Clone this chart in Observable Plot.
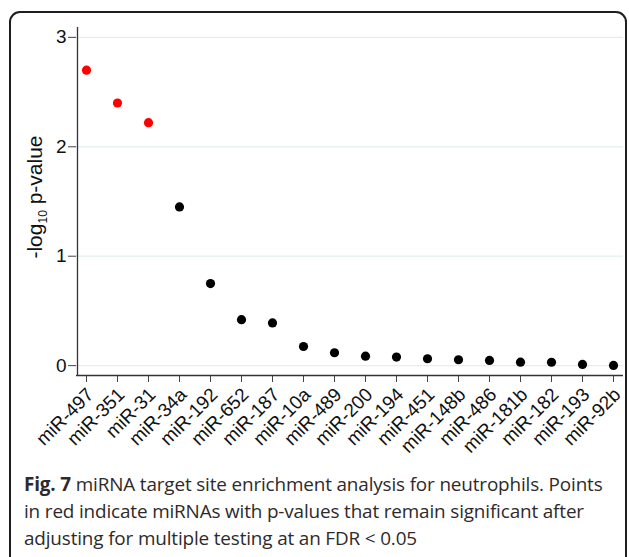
<!DOCTYPE html>
<html>
<head>
<meta charset="utf-8">
<script src="https://cdn.jsdelivr.net/npm/d3@7"></script>
<script src="https://cdn.jsdelivr.net/npm/@observablehq/plot@0.6"></script>
<style>
  html, body { margin: 0; padding: 0; background: #fff; width: 629px; height: 557px; overflow: hidden; }
  #box { position: absolute; left: 9px; top: 11px; width: 614px; height: 560px; border: 2px solid #1e1e1e; border-radius: 11px; pointer-events: none; }
  #chart { position: absolute; left: 0; top: 0; }
  #chart svg text { font-size: 19px; fill: #111; }
  #caption { position: absolute; left: 24px; top: 471px; font-family: "Open Sans", sans-serif; font-weight: 400; font-size: 18.9px; line-height: 27px; color: #2e2a2b; white-space: nowrap; letter-spacing: -0.15px; }
  #caption b { font-weight: 700; }
</style>
</head>
<body>
<div id="chart"></div>
<div id="box"></div>
<div id="caption"><b>Fig. 7</b> miRNA target site enrichment analysis for neutrophils. Points<br>in red indicate miRNAs with p-values that remain significant after<br>adjusting for multiple testing at an FDR &lt; 0.05</div>
<script>
const categories = ["miR-497","miR-351","miR-31","miR-34a","miR-192","miR-652","miR-187","miR-10a","miR-489","miR-200","miR-194","miR-451","miR-148b","miR-486","miR-181b","miR-182","miR-193","miR-92b"];
const negLogP = [2.70, 2.40, 2.22, 1.45, 0.75, 0.42, 0.39, 0.175, 0.118, 0.087, 0.078, 0.063, 0.054, 0.048, 0.032, 0.031, 0.011, 0.002];
const significant = [true, true, true, false, false, false, false, false, false, false, false, false, false, false, false, false, false, false];
const yTicks = [0, 1, 2, 3];

const data = categories.map((c, i) => ({name: c, value: negLogP[i], sig: significant[i]}));

const chart = Plot.plot({
  width: 629,
  height: 470,
  marginLeft: 76,
  marginRight: 6,
  marginTop: 27,
  marginBottom: 95,
  style: {fontFamily: "'Liberation Sans', Arial, Helvetica, sans-serif", fontSize: "19px", background: "transparent", color: "#111"},
  x: {type: "point", domain: categories, padding: 0.29, label: null},
  y: {domain: [-0.09, 3.09], label: null},
  marks: [
    Plot.gridY(yTicks, {stroke: "#e3eef1", strokeOpacity: 1, strokeWidth: 1.2}),
    Plot.axisY(yTicks, {tickSize: 8, tickPadding: 2, tickFormat: d => d, label: null, stroke: "#444"}),
    Plot.axisX({tickSize: 7, tickPadding: 2, tickRotate: -45, label: null, stroke: "#444"}),
    Plot.axisX({tickSize: 0, tickPadding: 9, tickRotate: -45, label: null, dx: 4, dy: 7, fill: "#111"}),
    Plot.ruleY([-0.09], {stroke: "#333", strokeWidth: 1.3}),
    Plot.ruleX([categories[0]], {dx: -9, y1: -0.09, y2: 3.09, stroke: "#333", strokeWidth: 1.3}),
    Plot.dot(data, {x: "name", y: "value", r: 4.6, fill: d => d.sig ? "#ff0000" : "#000000", stroke: "none"})
  ]
});
document.getElementById("chart").appendChild(chart);

// first x axis: keep only the tick marks (labels come from the shifted second axis)
const svg = d3.select(chart);
const xTickLabelGroups = svg.selectAll('g[aria-label="x-axis tick label"]').nodes();
if (xTickLabelGroups.length > 1) xTickLabelGroups[0].remove();

// y-axis title with subscript
const t = svg.append("text")
  .attr("transform", "translate(42,197) rotate(-90)")
  .attr("text-anchor", "middle")
  .style("font-size", "21px")
  .attr("fill", "#111")
  .attr("font-family", "'Liberation Sans', Arial, Helvetica, sans-serif");
t.append("tspan").text("-log");
t.append("tspan").style("font-size", "12px").attr("dy", 5).text("10");
t.append("tspan").attr("dy", -5).text(" p-value");
</script>
</body>
</html>
